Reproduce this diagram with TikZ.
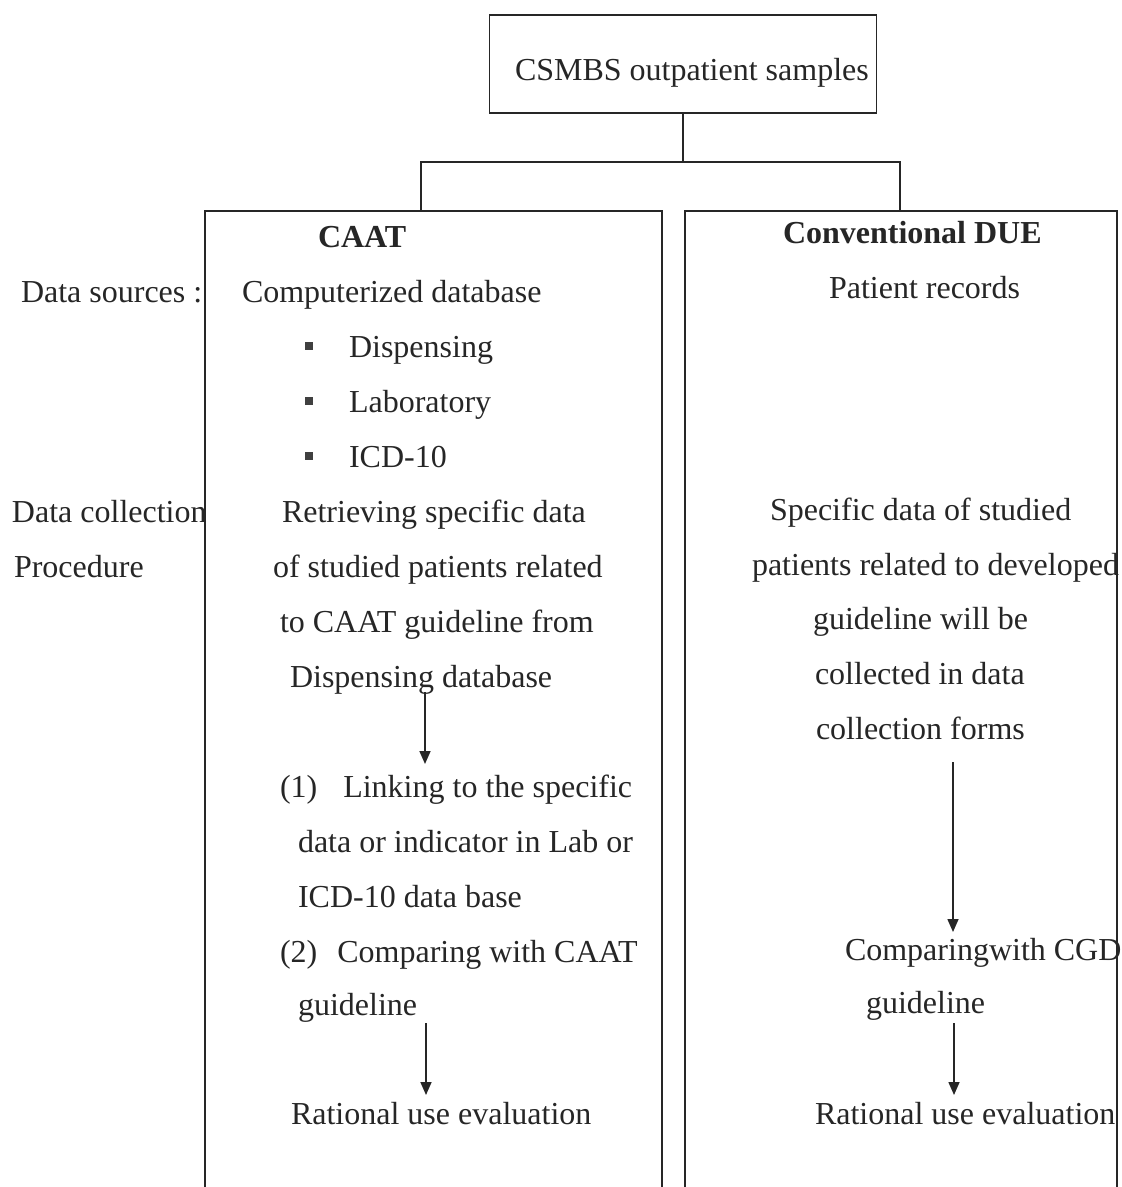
\documentclass[tikz,border=0pt]{standalone}
\usepackage{fontspec}
\setmainfont{Liberation Serif}
\usetikzlibrary{arrows.meta}
\begin{document}
\begin{tikzpicture}[x=1pt,y=-1pt,
  txt/.style={anchor=base west, inner sep=0pt, outer sep=0pt, font=\fontsize{32}{38}\selectfont, text=black!85},
  btxt/.style={txt, font=\fontsize{32}{38}\selectfont\bfseries},
  frame/.style={draw=black!85, line width=1.8pt},
  conn/.style={draw=black!85, line width=1.8pt},
  arr/.style={draw=black!85, line width=1.6pt, -{Triangle[length=13pt,width=11pt]}},
  bullet/.style={fill=black!75, minimum size=8pt, inner sep=0pt}]
\useasboundingbox (0,0) rectangle (1122,1187);
\fill[white] (0,0) rectangle (1122,1187);

% top box
\node (top) [frame, minimum width=387pt, minimum height=98pt, inner sep=0pt] at (683,64) {};
\node (toptxt) [txt] at (515,80) {CSMBS outpatient samples};

% junction
\coordinate (jl) at (421,162);
\coordinate (jr) at (900,162);
\coordinate (ltop) at (421,211);
\coordinate (rtop) at (900,211);
\draw[conn] (top.south) -- (top.south |- jl);
\draw[conn] (ltop) -- (jl) -- (jr) -- (rtop);

% column boxes (open at bottom)
\draw[frame] (205,1187) -- (205,211) -- (662,211) -- (662,1187);
\draw[frame] (685,1187) -- (685,211) -- (1117,211) -- (1117,1187);

% side labels
\node (ds) [txt] at (21,302) {Data sources :};
\node (dc) [txt] at (12,522) {Data collection};
\node (proc) [txt] at (14,577) {Procedure};

% left column
\node (caat) [btxt] at (318,247) {CAAT};
\node (comp) [txt] at (242,302) {Computerized database};
\node (b1) [bullet] at (309,346) {};
\node (b2) [bullet] at (309,401) {};
\node (b3) [bullet] at (309,456) {};
\node (l1) [txt] at (349,357) {Dispensing};
\node (l2) [txt] at (349,412) {Laboratory};
\node (l3) [txt] at (349,467) {ICD-10};
\node (r1) [txt] at (282,522) {Retrieving specific data};
\node (r2) [txt] at (273,577) {of studied patients related};
\node (r3) [txt] at (280,632) {to CAAT guideline from};
\node (r4) [txt] at (290,687) {Dispensing database};
\node (k1) [txt] at (280,797) {(1)\hspace{26pt}Linking to the specific};
\node (k2) [txt] at (298,852) {data or indicator in Lab or};
\node (k3) [txt] at (298,907) {ICD-10 data base};
\node (k4) [txt] at (280,962) {(2)\hspace{20pt}Comparing with CAAT};
\node (k5) [txt] at (298,1015) {guideline};
\node (ev1) [txt] at (291,1124) {Rational use evaluation};

\coordinate (a1s) at (425,692);
\coordinate (a1e) at (425,764);
\coordinate (a2s) at (426,1023);
\coordinate (a2e) at (426,1095);
\draw[arr] (a1s) -- (a1e);
\draw[arr] (a2s) -- (a2e);

% right column
\node (cdue) [btxt] at (783,243) {Conventional DUE};
\node (prec) [txt] at (829,298) {Patient records};
\node (s1) [txt] at (770,520) {Specific data of studied};
\node (s2) [txt] at (752,575) {patients related to developed};
\node (s3) [txt] at (813,629) {guideline will be};
\node (s4) [txt] at (815,684) {collected in data};
\node (s5) [txt] at (816,739) {collection forms};
\node (c1) [txt] at (845,960) {Comparingwith CGD};
\node (c2) [txt] at (866,1013) {guideline};
\node (ev2) [txt] at (815,1124) {Rational use evaluation};

\coordinate (a3s) at (953,762);
\coordinate (a3e) at (953,932);
\coordinate (a4s) at (954,1023);
\coordinate (a4e) at (954,1095);
\draw[arr] (a3s) -- (a3e);
\draw[arr] (a4s) -- (a4e);
\end{tikzpicture}
\end{document}
